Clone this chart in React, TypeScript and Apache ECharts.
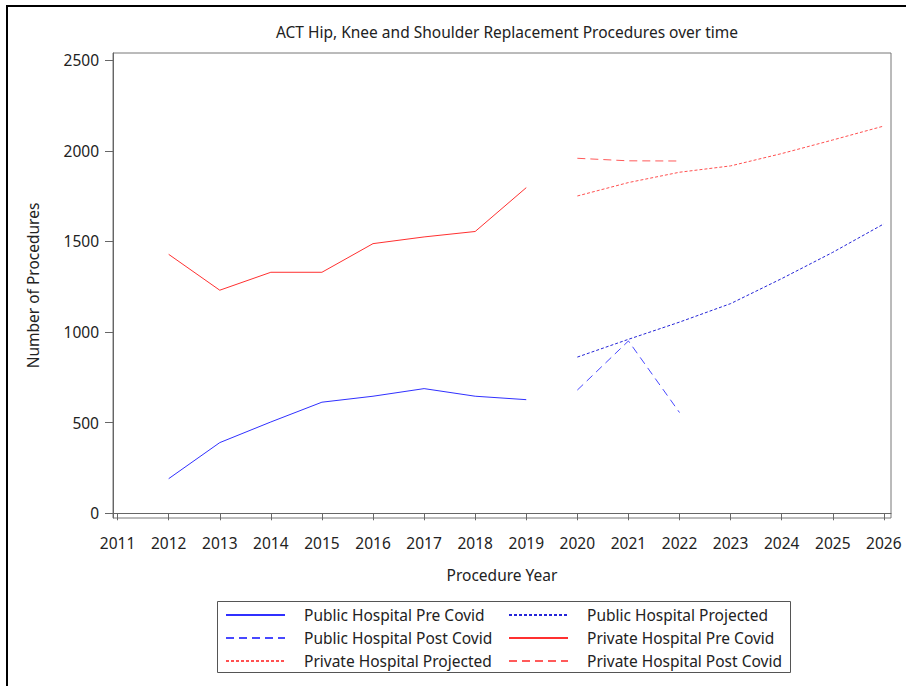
import React, { useEffect, useRef } from "react";
import * as echarts from "echarts";

const preYears = [2012, 2013, 2014, 2015, 2016, 2017, 2018, 2019];
const projYears = [2020, 2021, 2022, 2023, 2024, 2025, 2026];
const postYears = [2020, 2021, 2022];

const publicPre = [191, 390, 504, 613, 646, 688, 646, 627];
const privatePre = [1429, 1231, 1330, 1330, 1488, 1525, 1555, 1797];
const publicProj = [862, 960, 1055, 1157, 1295, 1440, 1597];
const privateProj = [1751, 1825, 1882, 1917, 1985, 2060, 2137];
const publicPost = [680, 951, 556];
const privatePost = [1959, 1945, 1944];

const xTicks = [2011, 2012, 2013, 2014, 2015, 2016, 2017, 2018, 2019, 2020, 2021, 2022, 2023, 2024, 2025, 2026];
const yTicks = [0, 500, 1000, 1500, 2000, 2500];

const FONT = "Noto Sans";
const FS = 15.5;

const pairs = (xs: number[], ys: number[]) => xs.map((x, i) => [x, ys[i]]);

export default function App() {
  const ref = useRef<HTMLDivElement>(null);
  useEffect(() => {
    if (!ref.current) return;
    const chart = echarts.init(ref.current, undefined, { renderer: "svg" });
    const mk = (name: string, xs: number[], ys: number[], color: string, type: any) => ({
      name,
      type: "line",
      data: pairs(xs, ys),
      symbol: "none",
      lineStyle: { color, width: 1, type },
      itemStyle: { color },
      emphasis: { disabled: true },
    });
    const legendBase = {
      top: 607,
      orient: "vertical",
      padding: 0,
      itemWidth: 59,
      itemHeight: 14,
      itemGap: 7,
      selectedMode: false,
      itemStyle: { opacity: 0 },
      textStyle: { fontFamily: FONT, fontSize: FS, color: "#222", padding: [0, 0, 0, 14], lineHeight: 14 },
    };
    chart.setOption({
      animation: false,
      backgroundColor: "#ffffff",
      title: {
        text: "ACT Hip, Knee and Shoulder Replacement Procedures over time",
        left: 502,
        top: 19,
        textAlign: "center",
        textStyle: { fontFamily: FONT, fontSize: FS, fontWeight: "normal", color: "#222" },
      },
      grid: {
        left: 113,
        top: 53,
        right: 15,
        bottom: 168,
        show: true,
        borderColor: "#777",
        borderWidth: 1,
        outerBoundsMode: "none",
        containLabel: false,
      },
      xAxis: {
        type: "value",
        min: 2010.91,
        max: 2026.14,
        name: "Procedure Year",
        nameLocation: "middle",
        nameGap: 49,
        nameTextStyle: { fontFamily: FONT, fontSize: FS, color: "#222" },
        axisLine: { show: true, lineStyle: { color: "#666", width: 1 } },
        axisTick: { show: true, length: 7, lineStyle: { color: "#666" }, customValues: xTicks },
        axisLabel: {
          customValues: xTicks,
          formatter: (v: number) => String(v),
          fontFamily: FONT,
          fontSize: FS,
          color: "#222",
          margin: 17,
        },
        splitLine: { show: false },
      },
      yAxis: {
        type: "value",
        min: -26,
        max: 2540,
        name: "Number of Procedures",
        nameLocation: "middle",
        nameGap: 72,
        nameRotate: 90,
        nameTextStyle: { fontFamily: FONT, fontSize: FS, color: "#222" },
        axisLine: { show: true, lineStyle: { color: "#666", width: 1 } },
        axisTick: { show: true, length: 8, lineStyle: { color: "#666" }, customValues: yTicks },
        axisLabel: {
          customValues: yTicks,
          formatter: (v: number) => String(v),
          fontFamily: FONT,
          fontSize: FS,
          color: "#222",
          margin: 14,
        },
        splitLine: { show: false },
      },
      legend: [
        {
          ...legendBase,
          left: 225,
          data: ["Public Hospital Pre Covid", "Public Hospital Post Covid", "Private Hospital Projected"],
        },
        {
          ...legendBase,
          left: 508,
          data: ["Public Hospital Projected", "Private Hospital Pre Covid", "Private Hospital Post Covid"],
        },
      ],
      graphic: [
        {
          type: "rect",
          shape: { x: 217.5, y: 601.5, width: 573, height: 71 },
          style: { fill: "none", stroke: "#555", lineWidth: 1 },
          silent: true,
        },
        {
          type: "line",
          shape: { x1: 7, y1: 5, x2: 7, y2: 686 },
          style: { stroke: "#000", lineWidth: 2 },
          silent: true,
        },
        {
          type: "line",
          shape: { x1: 6, y1: 6, x2: 906, y2: 6 },
          style: { stroke: "#000", lineWidth: 2 },
          silent: true,
        },
      ],
      series: [
        mk("Public Hospital Pre Covid", preYears, publicPre, "#3030ff", "solid"),
        mk("Public Hospital Projected", projYears, publicProj, "#2525d8", [3, 2]),
        mk("Public Hospital Post Covid", postYears, publicPost, "#4848ff", [8, 5]),
        mk("Private Hospital Pre Covid", preYears, privatePre, "#ff3030", "solid"),
        mk("Private Hospital Projected", projYears, privateProj, "#ff5050", [3, 2]),
        mk("Private Hospital Post Covid", postYears, privatePost, "#ff5a5a", [8, 5]),
      ],
    });
    return () => chart.dispose();
  }, []);
  return <div ref={ref} style={{ position: "fixed", left: 0, top: 0, width: 906, height: 686 }} />;
}
